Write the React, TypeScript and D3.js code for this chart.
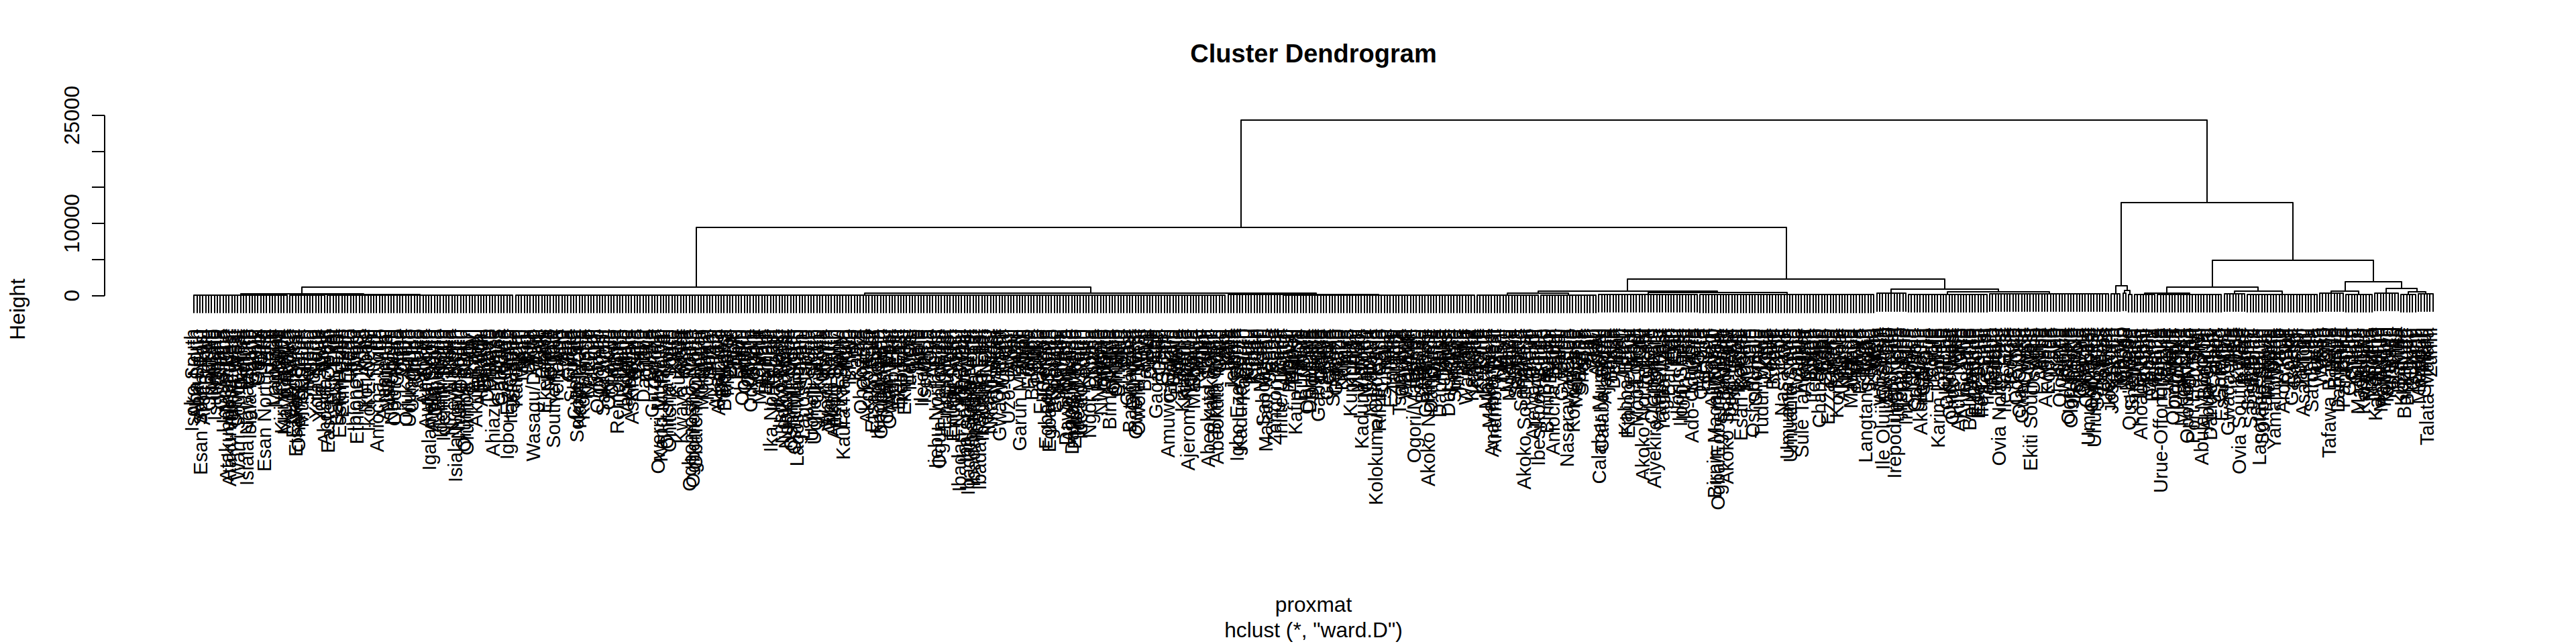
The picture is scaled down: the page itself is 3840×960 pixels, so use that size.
import React, { useEffect } from "react";
import * as d3 from "d3";

// ---------------- DATA ----------------
// Leaf labels (Nigerian LGAs)
const lgaNames: string[] = [
  "Aba North","Aba South","Arochukwu","Bende","Ikwuano","Isiala Ngwa North","Isiala Ngwa South","Isuikwuato","Obi Ngwa","Ohafia","Osisioma","Ugwunagbo","Ukwa East","Ukwa West","Umuahia North","Umuahia South","Umu Nneochi",
  "Demsa","Fufure","Ganye","Gayuk","Gombi","Grie","Hong","Jada","Lamurde","Madagali","Maiha","Mayo Belwa","Michika","Mubi North","Mubi South","Numan","Shelleng","Song","Toungo","Yola North","Yola South",
  "Abak","Eastern Obolo","Eket","Esit Eket","Essien Udim","Etim Ekpo","Etinan","Ibeno","Ibesikpo Asutan","Ibiono-Ibom","Ika","Ikono","Ikot Abasi","Ikot Ekpene","Ini","Itu","Mbo","Mkpat-Enin","Nsit-Atai","Nsit-Ibom","Nsit-Ubium","Obot Akara","Okobo","Onna","Oron","Oruk Anam","Udung-Uko","Ukanafun","Uruan","Urue-Offong/Oruko","Uyo",
  "Aguata","Anambra East","Anambra West","Anaocha","Awka North","Awka South","Ayamelum","Dunukofia","Ekwusigo","Idemili North","Idemili South","Ihiala","Njikoka","Nnewi North","Nnewi South","Ogbaru","Onitsha North","Onitsha South","Orumba North","Orumba South","Oyi",
  "Alkaleri","Bauchi","Bogoro","Damban","Darazo","Dass","Gamawa","Ganjuwa","Giade","Itas/Gadau","Jama'are","Katagum","Kirfi","Misau","Ningi","Shira","Tafawa Balewa","Toro","Warji","Zaki",
  "Brass","Ekeremor","Kolokuma/Opokuma","Nembe","Ogbia","Sagbama","Southern Ijaw","Yenagoa",
  "Ado","Agatu","Apa","Buruku","Gboko","Guma","Gwer East","Gwer West","Katsina-Ala","Konshisha","Kwande","Logo","Makurdi","Obi","Ogbadibo","Ohimini","Oju","Okpokwu","Oturkpo","Tarka","Ukum","Ushongo","Vandeikya",
  "Abadam","Askira/Uba","Bama","Bayo","Biu","Chibok","Damboa","Dikwa","Gubio","Guzamala","Gwoza","Hawul","Jere","Kaga","Kala/Balge","Konduga","Kukawa","Kwaya Kusar","Mafa","Magumeri","Maiduguri","Marte","Mobbar","Monguno","Ngala","Nganzai","Shani",
  "Abi","Akamkpa","Akpabuyo","Bakassi","Bekwarra","Biase","Boki","Calabar Municipal","Calabar South","Etung","Ikom","Obanliku","Obubra","Obudu","Odukpani","Ogoja","Yakuur","Yala",
  "Aniocha North","Aniocha South","Bomadi","Burutu","Ethiope East","Ethiope West","Ika North East","Ika South","Isoko North","Isoko South","Ndokwa East","Ndokwa West","Okpe","Oshimili North","Oshimili South","Patani","Sapele","Udu","Ughelli North","Ughelli South","Ukwuani","Uvwie","Warri North","Warri South","Warri South West",
  "Abakaliki","Afikpo North","Afikpo South","Ebonyi","Ezza North","Ezza South","Ikwo","Ishielu","Ivo","Izzi","Ohaozara","Ohaukwu","Onicha",
  "Akoko-Edo","Egor","Esan Central","Esan North-East","Esan South-East","Esan West","Etsako Central","Etsako East","Etsako West","Igueben","Ikpoba Okha","Orhionmwon","Oredo","Ovia North-East","Ovia South-West","Owan East","Owan West","Uhunmwonde",
  "Ado Ekiti","Efon","Ekiti East","Ekiti South-West","Ekiti West","Emure","Aiyekire (Gbonyin)","Ido Osi","Ijero","Ikere","Ikole","Ilejemeje","Irepodun/Ifelodun","Ise/Orun","Moba","Oye",
  "Aninri","Awgu","Enugu East","Enugu North","Enugu South","Ezeagu","Igbo Etiti","Igbo-Eze North","Igbo Eze South","Isi Uzo","Nkanu East","Nkanu West","Nsukka","Oji River","Udenu","Udi","Uzo-Uwani",
  "Abaji","Abuja Municipal","Bwari","Gwagwalada","Kuje","Kwali",
  "Akko","Balanga","Billiri","Dukku","Funakaye","Gombe","Kaltungo","Kwami","Nafada","Shongom","Yamaltu/Deba",
  "Aboh Mbaise","Ahiazu Mbaise","Ehime Mbano","Ezinihitte","Ideato North","Ideato South","Ihitte/Uboma","Ikeduru","Isiala Mbano","Isu","Mbaitoli","Ngor Okpala","Njaba","Nkwerre","Nwangele","Obowo","Oguta","Ohaji/Egbema","Okigwe","Onuimo","Orlu","Orsu","Oru East","Oru West","Owerri Municipal","Owerri North","Owerri West",
  "Auyo","Babura","Biriniwa","Birnin Kudu","Buji","Dutse","Gagarawa","Garki","Gumel","Guri","Gwaram","Gwiwa","Hadejia","Jahun","Kafin Hausa","Kaugama","Kazaure","Kiri Kasama","Kiyawa","Maigatari","Malam Madori","Miga","Ringim","Roni","Sule Tankarkar","Taura","Yankwashi",
  "Birnin Gwari","Chikun","Giwa","Igabi","Ikara","Jaba","Jema'a","Kachia","Kaduna North","Kaduna South","Kagarko","Kajuru","Kaura","Kauru","Kubau","Kudan","Lere","Makarfi","Sabon Gari","Sanga","Soba","Zangon Kataf","Zaria",
  "Ajingi","Albasu","Bagwai","Bebeji","Bichi","Bunkure","Dala","Dambatta","Dawakin Kudu","Dawakin Tofa","Doguwa","Fagge","Gabasawa","Garko","Garun Mallam","Gaya","Gezawa","Gwale","Gwarzo","Kabo","Kano Municipal","Karaye","Kibiya","Kiru","Kumbotso","Kunchi","Kura","Madobi","Makoda","Minjibir","Nasarawa","Rano","Rimin Gado","Rogo","Shanono","Sumaila","Takai","Tarauni","Tofa","Tsanyawa","Tudun Wada","Ungogo","Warawa","Wudil",
  "Bakori","Batagarawa","Batsari","Baure","Bindawa","Charanchi","Dandume","Danja","Dan Musa","Daura","Dutsi","Dutsin Ma","Faskari","Funtua","Ingawa","Jibia","Kafur","Kaita","Kankara","Kankia","Katsina","Kurfi","Kusada","Mai'Adua","Malumfashi","Mani","Mashi","Matazu","Musawa","Rimi","Sabuwa","Safana","Sandamu","Zango",
  "Aleiro","Arewa Dandi","Argungu","Augie","Bagudo","Birnin Kebbi","Bunza","Dandi","Fakai","Gwandu","Jega","Kalgo","Koko/Besse","Maiyama","Ngaski","Sakaba","Shanga","Suru","Wasagu/Danko","Yauri","Zuru",
  "Adavi","Ajaokuta","Ankpa","Bassa","Dekina","Ibaji","Idah","Igalamela Odolu","Ijumu","Kabba/Bunu","Kogi","Lokoja","Mopa Muro","Ofu","Ogori/Magongo","Okehi","Okene","Olamaboro","Omala","Yagba East","Yagba West",
  "Asa","Baruten","Edu","Ekiti","Ifelodun","Ilorin East","Ilorin South","Ilorin West","Irepodun","Isin","Kaiama","Moro","Offa","Oke Ero","Oyun","Pategi",
  "Agege","Ajeromi-Ifelodun","Alimosho","Amuwo-Odofin","Apapa","Badagry","Epe","Eti Osa","Ibeju-Lekki","Ifako-Ijaiye","Ikeja","Ikorodu","Kosofe","Lagos Island","Lagos Mainland","Mushin","Ojo","Oshodi-Isolo","Shomolu","Surulere",
  "Akwanga","Awe","Doma","Karu","Keana","Keffi","Kokona","Lafia","Nasarawa","Nasarawa Egon","Obi","Toto","Wamba",
  "Agaie","Agwara","Bida","Borgu","Bosso","Chanchaga","Edati","Gbako","Gurara","Katcha","Kontagora","Lapai","Lavun","Magama","Mariga","Mashegu","Mokwa","Moya","Paikoro","Rafi","Rijau","Shiroro","Suleja","Tafa","Wushishi",
  "Abeokuta North","Abeokuta South","Ado-Odo/Ota","Egbado North","Egbado South","Ewekoro","Ifo","Ijebu East","Ijebu North","Ijebu North East","Ijebu Ode","Ikenne","Imeko Afon","Ipokia","Obafemi Owode","Odeda","Odogbolu","Ogun Waterside","Remo North","Shagamu",
  "Akoko North-East","Akoko North-West","Akoko South-West","Akoko South-East","Akure North","Akure South","Ese Odo","Idanre","Ifedore","Ilaje","Ile Oluji/Okeigbo","Irele","Odigbo","Okitipupa","Ondo East","Ondo West","Ose","Owo",
  "Atakunmosa East","Atakunmosa West","Aiyedaade","Aiyedire","Boluwaduro","Boripe","Ede North","Ede South","Ife Central","Ife East","Ife North","Ife South","Egbedore","Ejigbo","Ifedayo","Ifelodun","Ila","Ilesa East","Ilesa West","Irepodun","Irewole","Isokan","Iwo","Obokun","Odo Otin","Ola Oluwa","Olorunda","Oriade","Orolu","Osogbo",
  "Afijio","Akinyele","Atiba","Atisbo","Egbeda","Ibadan North","Ibadan North-East","Ibadan North-West","Ibadan South-East","Ibadan South-West","Ibarapa Central","Ibarapa East","Ibarapa North","Ido","Irepo","Iseyin","Itesiwaju","Iwajowa","Kajola","Lagelu","Ogbomosho North","Ogbomosho South","Ogo Oluwa","Olorunsogo","Oluyole","Ona Ara","Orelope","Ori Ire","Oyo East","Oyo West","Saki East","Saki West","Surulere",
  "Barkin Ladi","Bassa","Bokkos","Jos East","Jos North","Jos South","Kanam","Kanke","Langtang North","Langtang South","Mangu","Mikang","Pankshin","Qua'an Pan","Riyom","Shendam","Wase",
  "Abua/Odual","Ahoada East","Ahoada West","Akuku-Toru","Andoni","Asari-Toru","Bonny","Degema","Eleme","Emuoha","Etche","Gokana","Ikwerre","Khana","Obio/Akpor","Ogba/Egbema/Ndoni","Ogu/Bolo","Okrika","Omuma","Opobo/Nkoro","Oyigbo","Port Harcourt","Tai",
  "Binji","Bodinga","Dange Shuni","Gada","Goronyo","Gudu","Gwadabawa","Illela","Isa","Kebbe","Kware","Rabah","Sabon Birni","Shagari","Silame","Sokoto North","Sokoto South","Tambuwal","Tangaza","Tureta","Wamako","Wurno","Yabo",
  "Ardo Kola","Bali","Donga","Gashaka","Gassol","Ibi","Jalingo","Karim Lamido","Kumi","Lau","Sardauna","Takum","Ussa","Wukari","Yorro","Zing",
  "Bade","Bursari","Damaturu","Fika","Fune","Geidam","Gujba","Gulani","Jakusko","Karasuwa","Machina","Nangere","Nguru","Potiskum","Tarmuwa","Yunusari","Yusufari",
  "Anka","Bakura","Birnin Magaji/Kiyaw","Bukkuyum","Bungudu","Chafe","Gummi","Gusau","Kaura Namoda","Maradun","Maru","Shinkafi","Talata Mafara","Zurmi",
];

// Labels at their leaf positions (1-based leaf order)
const anchoredLabels: [number, string][] = [
  [1,"Isoko South"],[4,"Esan South-East"],[7,"Ohaukwu"],[13,"Atakunmosa East"],[14,"Atakunmosa West"],
  [17,"Warri South West"],[20,"Isiala Ngwa South"],[21,"Isiala Mbano"],[26,"Esan North-East"],[32,"Kiri Kasama"],
  [36,"Etsako West"],[37,"Etsako Central"],[38,"Ohaji/Egbema"],[47,"Ahoada West"],[51,"Barkin Ladi"],
  [55,"Oredo"],[58,"Ethiope West"],[65,"Aniocha North"],[67,"Ayamelum"],[83,"Igalamela Odolu"],
  [92,"Isiala Ngwa North"],[99,"Akuku-Toru"],[101,"Abakaliki"],[105,"Ahiazu Mbaise"],[110,"Igbo-Eze North"],
  [119,"Wasagu/Danko"],[132,"Surulere"],[134,"Sokoto North"],[143,"Saki West"],[148,"Remo North"],
  [162,"Owerri Municipal"],[163,"Kano Municipal"],[165,"Onitsha North"],[166,"Onitsha South"],[173,"Ogbomosho South"],
  [174,"Ogbomosho North"],[175,"Obafemi Owode"],[186,"Mbaitoli"],[197,"Magama"],[203,"Ngaski"],
  [210,"Lagos Mainland"],[212,"Lagos Island"],[218,"Kokona"],[226,"Kaura Namoda"],[230,"Kaura"],
  [240,"Itesiwaju"],[246,"Irepodun"],[258,"Ijebu North East"],[259,"Ogun Waterside"],[262,"Ilesa West"],
  [266,"Ibadan North-West"],[268,"Ibarapa Central"],[269,"Ibadan South-West"],[270,"Ibarapa North"],[271,"Ibadan North-East"],
  [272,"Ibarapa East"],[273,"Ibadan South-East"],[274,"Ibadan North"],[280,"Gwagwalada"],[287,"Garun Mallam"],
  [290,"Funtua"],[296,"Egbado North"],[297,"Egbado South"],[299,"Egbedore"],[303,"Dawakin Tofa"],
  [305,"Dawakin Kudu"],[313,"Chikun"],[318,"Birnin Kudu"],[321,"Biriniwa"],[325,"Batagarawa"],
  [333,"Epe"],[338,"Amuwo-Odofin"],[345,"Ajeromi-Ifelodun"],[352,"Abeokuta South"],[355,"Abeokuta North"],
  [362,"Igbo Eze South"],[372,"Malam Madori"],[377,"Ihitte/Uboma"],[382,"Kafin Hausa"],[386,"Obi Ngwa"],
  [395,"Shanono"],[405,"Kaduna North"],[410,"Kolokuma/Opokuma"],[415,"Ezinihitte"],[423,"Ogori/Magongo"],
  [428,"Akoko North-West"],[431,"Agege"],[437,"Surulere"],[441,"Wamako"],[450,"Anambra West"],
  [451,"Anambra East"],[454,"Ori Ire"],[461,"Akoko South-West"],[466,"Ibesikpo Asutan"],[471,"Aniocha South"],
  [476,"Nasarawa Egon"],[483,"Rafi"],[487,"Calabar Municipal"],[488,"Calabar South"],[497,"Ethiope East"],
  [502,"Akoko North-East"],[506,"Aiyekire (Gbonyin)"],[519,"Ado-Odo/Ota"],[523,"Eti Osa"],[527,"Birnin Magaji/Kiyaw"],
  [528,"Ogba/Egbema/Ndoni"],[531,"Akoko South-East"],[536,"Esan Central"],[543,"Tudun Wada"],[547,"Buruku"],
  [552,"Umuahia North"],[553,"Umuahia South"],[557,"Sule Tankarkar"],[561,"Ife North"],[566,"Ezza North"],
  [571,"Akinyele"],[579,"Langtang North"],[581,"Lagelu"],[585,"Ile Oluji/Okeigbo"],[589,"Irepodun/Ifelodun"],
  [599,"Gokana"],[604,"Karim Lamido"],[611,"Akure North"],[625,"Ovia North-East"],[633,"Gwer West"],
  [636,"Ekiti South-West"],[641,"Akwanga"],[646,"Olorunda"],[651,"Irepodun"],[656,"Umu Nneochi"],
  [658,"Uhunmwonde"],[667,"Gboko"],[673,"Ifelodun"],[677,"Obokun"],[681,"Urue-Offong/Oruko"],
  [688,"Mkpat-Enin"],[695,"Abuja Municipal"],[697,"Abua/Odual"],[699,"Chibok"],[702,"Esan West"],
  [708,"Ovia South-West"],[711,"Sagbama"],[715,"Langtang South"],[720,"Yamaltu/Deba"],[730,"Asari-Toru"],
  [739,"Tafawa Balewa"],[744,"Pankshin"],[749,"Magumeri"],[752,"Riyom"],[755,"Kala/Balge"],
  [757,"Maiduguri"],[764,"Konduga"],
];

// Merge tree: h = merge height; c = sub-clusters; r = run of leaves (by order) merging at h
type Cluster = { h: number; c?: Cluster[]; r?: [number, number] };
const tree: Cluster = { h: 24344, c: [
  { h: 9460, c: [
    { h: 1210, c: [
      { h: 220, c: [
        { h: 60, r: [1, 33] },
        { h: 130, c: [{ h: 40, r: [34, 46] }, { h: 70, r: [47, 111] }] },
      ] },
      { h: 320, c: [
        { h: 90, c: [{ h: 40, r: [112, 230] }, { h: 50, r: [231, 357] }] },
        { h: 200, c: [{ h: 120, r: [358, 376] }, { h: 60, r: [377, 443] }] },
      ] },
    ] },
    { h: 2326, c: [
      { h: 595, c: [
        { h: 344, c: [{ h: 80, r: [444, 465] }, { h: 100, r: [466, 485] }] },
        { h: 465, c: [{ h: 150, r: [486, 520] }, { h: 120, r: [521, 581] }] },
      ] },
      { h: 930, c: [
        { h: 300, r: [582, 592] },
        { h: 500, c: [{ h: 200, r: [593, 620] }, { h: 250, r: [621, 662] }] },
      ] },
    ] },
  ] },
  { h: 12930, c: [
    { h: 1400, c: [
      { h: 280, r: [663, 666] },
      { h: 690, c: [{ h: 350, r: [667, 668] }, { h: 150, r: [669, 670] }] },
    ] },
    { h: 4930, c: [
      { h: 1210, c: [
        { h: 370, c: [{ h: 150, r: [671, 678] }, { h: 200, r: [679, 701] }] },
        { h: 620, c: [{ h: 250, r: [702, 709] }, { h: 180, r: [710, 734] }] },
      ] },
      { h: 1950, c: [
        { h: 640, c: [{ h: 300, r: [735, 743] }, { h: 200, r: [744, 753] }] },
        { h: 1020, c: [
          { h: 350, r: [754, 762] },
          { h: 540, c: [{ h: 200, r: [763, 768] }, { h: 250, r: [769, 774] }] },
        ] },
      ] },
    ] },
  ] },
] };

const yTickValues = [0, 5000, 10000, 15000, 20000, 25000];
const yTickLabelValues = [0, 10000, 25000];

const mainTitle = "Cluster Dendrogram";
const yAxisTitle = "Height";
const xAxisTitle = "proxmat";
const subTitle = 'hclust (*, "ward.D")';

// ---------------- CHART ----------------
const FONT = "'Liberation Sans', Arial, Helvetica, sans-serif";

export default function App() {
  useEffect(() => {
    document.body.style.margin = "0";
  }, []);

  const W = 3840, H = 960;
  const plotL = 156, plotR = 3760, plotT = 156, plotB = 766;
  const n = lgaNames.length;

  // leaf order labels
  const remaining = new Map<string, number>();
  anchoredLabels.forEach(([, nm]) => remaining.set(nm, (remaining.get(nm) || 0) + 1));
  const fillers = lgaNames.filter((nm) => {
    const c = remaining.get(nm) || 0;
    if (c > 0) { remaining.set(nm, c - 1); return false; }
    return true;
  });
  const anchorMap = new Map<number, string>(anchoredLabels);
  const leafLabels: string[] = [];
  let fi = 0;
  for (let i = 1; i <= n; i++) leafLabels.push(anchorMap.has(i) ? (anchorMap.get(i) as string) : (fillers[fi++] ?? ""));

  const x = d3.scaleLinear().domain([1 - 0.04 * (n - 1), n + 0.04 * (n - 1)]).range([plotL, plotR]);
  const y = d3.scaleLinear().domain([0, 25000]).range([440.7, 172]);

  const hs: number[] = [];
  (function walk(c: Cluster) { hs.push(c.h); c.c?.forEach(walk); })(tree);
  const hang = 0.1 * ((d3.max(hs) as number) - (d3.min(hs) as number));

  const path = d3.path();
  const leaves: { x: number; yb: number; label: string }[] = [];
  const R = (v: number) => Math.round(v);

  function layout(node: Cluster): number {
    const yy = R(y(node.h));
    if (node.r) {
      const [a, b] = node.r;
      const idx = d3.range(a, b + 1);
      path.moveTo(R(x(a)), yy); path.lineTo(R(x(b)), yy);
      idx.forEach((i) => {
        const xi = R(x(i));
        const yb = y(node.h - hang);
        path.moveTo(xi, yy); path.lineTo(xi, R(yb));
        leaves.push({ x: x(i), yb, label: leafLabels[i - 1] });
      });
      return d3.mean(idx.map((i) => x(i))) as number;
    }
    const kids = node.c as Cluster[];
    const xs = kids.map((k) => layout(k));
    path.moveTo(R(d3.min(xs) as number), yy); path.lineTo(R(d3.max(xs) as number), yy);
    kids.forEach((k, j) => {
      path.moveTo(R(xs[j]), yy); path.lineTo(R(xs[j]), R(y(k.h)));
    });
    return d3.mean(xs) as number;
  }
  layout(tree);

  const labelFs = 29;
  const labelOffset = 0.833 * labelFs;
  const fs = 31.7;
  const cx = (plotL + plotR) / 2;
  const cy = (plotT + plotB) / 2;

  return (
    <svg width={W} height={H} style={{ position: "absolute", left: 0, top: 0, display: "block" }} fontFamily={FONT}>
      <rect x={0} y={0} width={W} height={H} fill="#ffffff" />
      <path d={path.toString()} fill="none" stroke="#000" strokeWidth={2} strokeLinecap="round" strokeLinejoin="round" />
      <g fontSize={labelFs} fill="#000">
        {leaves.map((lf, k) => (
          <text key={k} transform={`translate(${(lf.x + 0.3 * 0.72 * labelFs).toFixed(2)},${(lf.yb + labelOffset).toFixed(2)}) rotate(-90)`} textAnchor="end">
            {lf.label}
          </text>
        ))}
      </g>
      {/* y axis */}
      <g stroke="#000" strokeWidth={2} fill="none">
        <line x1={plotL} x2={plotL} y1={R(y(yTickValues[0]))} y2={R(y(yTickValues[yTickValues.length - 1]))} />
        {yTickValues.map((v) => (
          <line key={v} x1={plotL} x2={plotL - 19} y1={R(y(v))} y2={R(y(v))} />
        ))}
      </g>
      <g fontSize={fs} fill="#000">
        {yTickLabelValues.map((v) => (
          <text key={v} transform={`translate(118,${y(v)}) rotate(-90)`} textAnchor="middle">{String(v)}</text>
        ))}
        <text transform={`translate(37,${cy}) rotate(-90)`} textAnchor="middle">{yAxisTitle}</text>
        <text x={cx} y={912} textAnchor="middle">{xAxisTitle}</text>
        <text x={cx} y={950} textAnchor="middle">{subTitle}</text>
      </g>
      <text x={cx} y={93} textAnchor="middle" fontSize={38} fontWeight="bold" fill="#000">{mainTitle}</text>
    </svg>
  );
}
